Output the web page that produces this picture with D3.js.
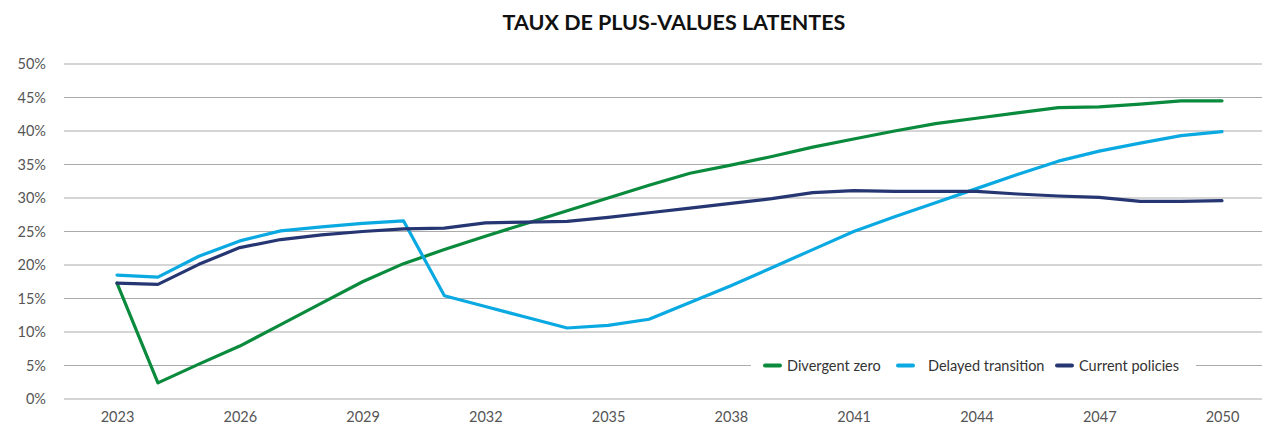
<!DOCTYPE html>
<html>
<head>
<meta charset="utf-8">
<script src="https://cdn.jsdelivr.net/npm/d3@7"></script>
<style>
  body { margin: 0; background: #fff; }
  svg text { font-family: Lato, "Open Sans", sans-serif; }
</style>
</head>
<body>
<script>
  const years = d3.range(2023, 2051);
  const tickYears = [2023, 2026, 2029, 2032, 2035, 2038, 2041, 2044, 2047, 2050];
  const yTicks = [0, 5, 10, 15, 20, 25, 30, 35, 40, 45, 50];

  const divergentZero = [17.3, 2.4, 5.2, 7.9, 11.1, 14.3, 17.5, 20.2, 22.3, 24.3, 26.2, 28.1, 30.0, 31.9,
                         33.7, 34.9, 36.2, 37.6, 38.8, 40.0, 41.1, 41.9, 42.7, 43.5, 43.6, 44.0, 44.5, 44.5];
  const delayedTransition = [18.5, 18.2, 21.3, 23.6, 25.1, 25.7, 26.2, 26.6, 15.4, 13.8, 12.2, 10.6, 11.0, 11.9,
                             14.4, 16.9, 19.6, 22.3, 25.0, 27.2, 29.3, 31.4, 33.5, 35.5, 37.0, 38.2, 39.3, 39.9];
  const currentPolicies = [17.3, 17.1, 20.1, 22.6, 23.8, 24.5, 25.0, 25.4, 25.5, 26.3, 26.4, 26.5, 27.1, 27.8,
                           28.5, 29.2, 29.9, 30.8, 31.1, 31.0, 31.0, 31.0, 30.6, 30.3, 30.1, 29.5, 29.5, 29.6];

  const seriesNames = ["Divergent zero", "Delayed transition", "Current policies"];
  const seriesColors = ["#0a8a3c", "#0aa9e1", "#263673"];
  const seriesValues = [divergentZero, delayedTransition, currentPolicies];

  const w = 1265, h = 425;
  const svg = d3.select("body").append("svg").attr("width", w).attr("height", h);

  const x = d3.scaleLinear().domain([2023, 2050]).range([117, 1222]);
  const y = d3.scaleLinear().domain([0, 50]).range([399, 64]);

  // title
  svg.append("text")
     .attr("x", 674).attr("y", 30)
     .attr("text-anchor", "middle")
     .attr("font-size", 21.5).attr("font-weight", "bold")
     .attr("fill", "#111")
     .text("TAUX DE PLUS-VALUES LATENTES");

  // gridlines
  svg.append("g").selectAll("line")
     .data(yTicks)
     .enter().append("line")
     .attr("x1", 64).attr("x2", 1262)
     .attr("y1", d => y(d)).attr("y2", d => y(d))
     .attr("stroke", "#ababab").attr("stroke-width", 1.2);

  // y axis labels
  const yAxis = d3.axisLeft(y).tickValues(yTicks).tickFormat(d => d + "%").tickSize(0).tickPadding(0);
  const yg = svg.append("g").attr("transform", "translate(46,0)").call(yAxis);
  yg.select(".domain").remove();
  yg.selectAll("text").attr("font-size", 14.5).attr("fill", "#555").attr("font-family", "Lato, sans-serif");

  // x axis labels
  const xAxis = d3.axisBottom(x).tickValues(tickYears).tickFormat(d3.format("d")).tickSize(0).tickPadding(0);
  const xg = svg.append("g").attr("transform", "translate(0,412)").call(xAxis);
  xg.select(".domain").remove();
  xg.selectAll("text").attr("font-size", 14.5).attr("fill", "#555").attr("font-family", "Lato, sans-serif");

  // lines
  const line = d3.line().x((d, i) => x(years[i])).y(d => y(d));
  svg.append("g").selectAll("path")
     .data(seriesValues)
     .enter().append("path")
     .attr("d", line)
     .attr("fill", "none")
     .attr("stroke", (d, i) => seriesColors[i])
     .attr("stroke-width", 3.2)
     .attr("stroke-linejoin", "round")
     .attr("stroke-linecap", "round");

  // legend
  const legendY = y(5);
  svg.append("rect")
     .attr("x", 751).attr("y", legendY - 9)
     .attr("width", 445).attr("height", 18)
     .attr("fill", "#fff");
  const legendX = [765, 898, 1057];
  const legend = svg.append("g").selectAll("g")
     .data(seriesNames)
     .enter().append("g")
     .attr("transform", (d, i) => `translate(${legendX[i]},${legendY})`);
  legend.append("line")
     .attr("x1", 0).attr("x2", 15)
     .attr("stroke", (d, i) => seriesColors[i])
     .attr("stroke-width", 4)
     .attr("stroke-linecap", "round");
  legend.append("text")
     .attr("x", (d, i) => i === 1 ? 30 : 22)
     .attr("dy", "0.35em")
     .attr("font-size", 14.5).attr("fill", "#333")
     .text(d => d);
</script>
</body>
</html>
